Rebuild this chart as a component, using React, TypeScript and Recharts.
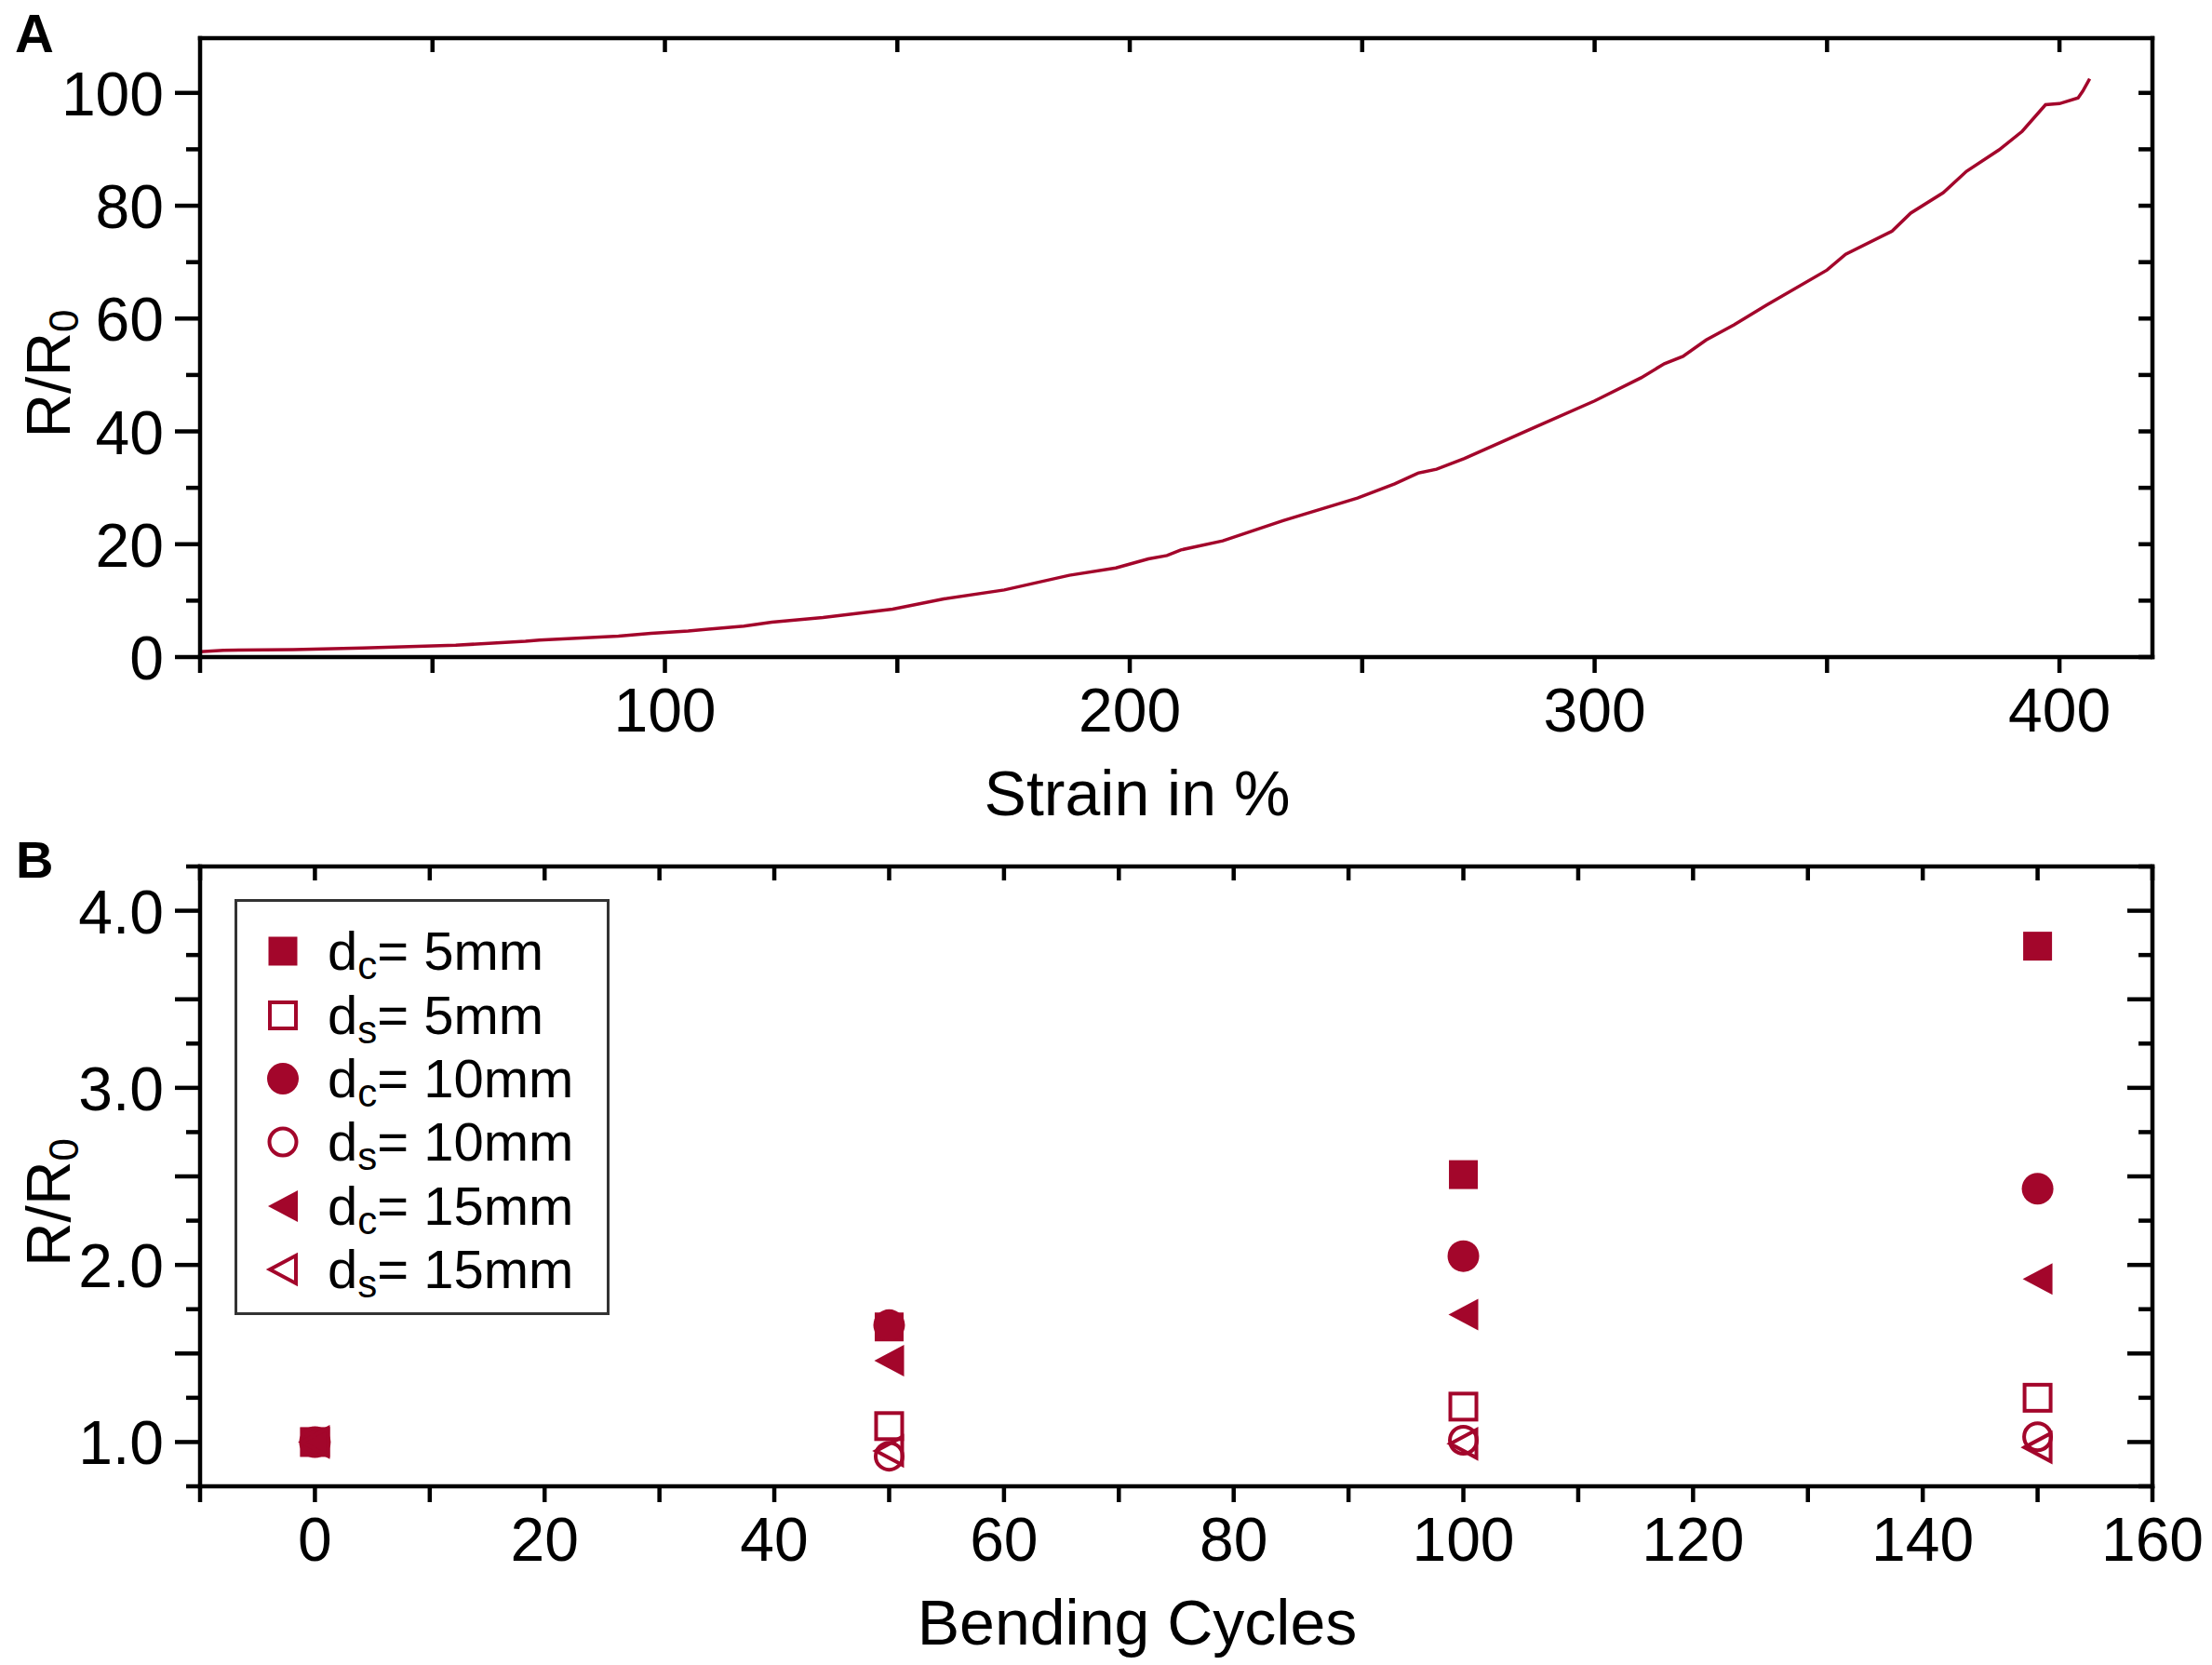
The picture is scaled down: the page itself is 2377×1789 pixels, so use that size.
import React from 'react';
import { LineChart, Line, ScatterChart, Scatter, XAxis, YAxis, Legend } from 'recharts';

// Panel A: resistance ratio vs strain
const strainPct = [
  0, 5, 20, 35, 55, 70, 73, 85, 90, 97, 105, 110, 117, 123, 134, 149, 160, 173, 187, 197,
  204, 208, 211, 220, 233, 249, 257, 262, 266, 272, 287, 300, 310, 315, 319, 324, 330, 337,
  350, 354, 364, 368, 375, 380, 387, 392, 397, 400, 404, 405, 406.5,
];
const strainRatio = [
  0.95, 1.2, 1.3, 1.6, 2.1, 2.8, 3.0, 3.5, 3.7, 4.2, 4.6, 5.0, 5.5, 6.2, 7.0, 8.5, 10.3, 11.9,
  14.5, 15.8, 17.4, 18.0, 19.0, 20.6, 24.2, 28.2, 30.7, 32.6, 33.3, 35.2, 40.7, 45.4, 49.5,
  52.0, 53.3, 56.2, 58.9, 62.4, 68.6, 71.4, 75.5, 78.7, 82.3, 86.1, 89.9, 93.2, 97.9, 98.1,
  99.1, 100.3, 102.5,
];

// Panel B: resistance ratio vs bending cycles
const bendingCycles = [0, 50, 100, 150];
const dc5 = [1.0, 1.65, 2.51, 3.8];
const ds5 = [1.0, 1.09, 1.2, 1.25];
const dc10 = [1.0, 1.66, 2.05, 2.43];
const ds10 = [1.0, 0.92, 1.01, 1.03];
const dc15 = [1.0, 1.46, 1.72, 1.92];
const ds15 = [1.0, 0.95, 0.99, 0.97];

const strainTicks = [0, 50, 100, 150, 200, 250, 300, 350, 400];
const ratioTicksA = [0, 10, 20, 30, 40, 50, 60, 70, 80, 90, 100];
const cycleTicks = [-10, 0, 10, 20, 30, 40, 50, 60, 70, 80, 90, 100, 110, 120, 130, 140, 150, 160];
const ratioTicksB = [0.75, 1, 1.25, 1.5, 1.75, 2, 2.25, 2.5, 2.75, 3, 3.25, 3.5, 3.75, 4, 4.25];

const RED = '#A3062B';
const FONT = '"Liberation Sans", Arial, Helvetica, sans-serif';
const TICK_FS = 66;
const LW = 4.5;
const AXIS = { stroke: '#000', strokeWidth: LW, strokeLinecap: 'square' as const };

const lineData = strainPct.map((s, i) => ({ strain: s, r: strainRatio[i] }));
const toPts = (vals: number[]) => bendingCycles.map((c, i) => ({ cycles: c, r: vals[i] }));

type Mark = 'square' | 'circle' | 'tri';
const Marker = ({ cx, cy, kind, filled }: { cx: number; cy: number; kind: Mark; filled: boolean }) => {
  const fill = filled ? RED : 'none';
  const sw = filled ? 0 : 4;
  if (kind === 'square') {
    const h = filled ? 15.5 : 14;
    return <rect x={cx - h} y={cy - h} width={2 * h} height={2 * h} fill={fill} stroke={RED} strokeWidth={sw} />;
  }
  if (kind === 'circle') {
    return <circle cx={cx} cy={cy} r={filled ? 17 : 14.5} fill={fill} stroke={RED} strokeWidth={sw} />;
  }
  const w = filled ? 16 : 14;
  return (
    <polygon
      points={`${cx - w},${cy} ${cx + w},${cy - w - 1} ${cx + w},${cy + w + 1}`}
      fill={fill}
      stroke={RED}
      strokeWidth={sw}
      strokeLinejoin="miter"
    />
  );
};

const series = [
  { name: 'dc5', sub: 'c', mm: '5mm', kind: 'square' as Mark, filled: true, vals: dc5 },
  { name: 'ds5', sub: 's', mm: '5mm', kind: 'square' as Mark, filled: false, vals: ds5 },
  { name: 'dc10', sub: 'c', mm: '10mm', kind: 'circle' as Mark, filled: true, vals: dc10 },
  { name: 'ds10', sub: 's', mm: '10mm', kind: 'circle' as Mark, filled: false, vals: ds10 },
  { name: 'dc15', sub: 'c', mm: '15mm', kind: 'tri' as Mark, filled: true, vals: dc15 },
  { name: 'ds15', sub: 's', mm: '15mm', kind: 'tri' as Mark, filled: false, vals: ds15 },
];

const tickText = (x: number, y: number, s: string, anchor: 'middle' | 'end') => (
  <text x={x} y={y} textAnchor={anchor} fontSize={TICK_FS} fontFamily={FONT} fill="#000">
    {s}
  </text>
);

const bottomTick = (labelled: (v: number) => string | null) => (p: any) => {
  const v = p.payload.value;
  const s = labelled(v);
  return (
    <g>
      <line x1={p.x} x2={p.x} y1={p.y} y2={p.y + 17} stroke="#000" strokeWidth={LW} />
      {s !== null && tickText(p.x, p.y + 80, s, 'middle')}
    </g>
  );
};

const topTick = (p: any) => (
  <line x1={p.x} x2={p.x} y1={p.y} y2={p.y + 15} stroke="#000" strokeWidth={LW} />
);

const leftTick = (isLong: (v: number) => boolean, labelled: (v: number) => string | null) => (p: any) => {
  const v = p.payload.value;
  const s = labelled(v);
  const len = isLong(v) ? 27 : 15;
  return (
    <g>
      <line x1={p.x - len} x2={p.x} y1={p.y} y2={p.y} stroke="#000" strokeWidth={LW} />
      {s !== null && tickText(p.x - 39, p.y + 24, s, 'end')}
    </g>
  );
};

const rightTick = (isLong: (v: number) => boolean) => (p: any) => {
  const len = isLong(p.payload.value) ? 27 : 15;
  return <line x1={p.x - len} x2={p.x} y1={p.y} y2={p.y} stroke="#000" strokeWidth={LW} />;
};

const yLabel = (p: any) => {
  const vb = p.viewBox || { y: 41, height: 665 };
  const cy = vb.y + vb.height / 2 + 28;
  return (
    <text
      x={75}
      y={cy}
      transform={`rotate(-90, 75, ${cy})`}
      textAnchor="middle"
      fontSize={TICK_FS}
      fontFamily={FONT}
      fill="#000"
    >
      R/R
      <tspan fontSize={44} dy={9}>
        0
      </tspan>
    </text>
  );
};

const xLabel = (text: string) => (p: any) => {
  const vb = p.viewBox || { y: 706 };
  return (
    <text x={1222} y={vb.y + 170} textAnchor="middle" fontSize={68} fontFamily={FONT} fill="#000">
      {text}
    </text>
  );
};

const LegendBox = () => (
  <div
    style={{
      width: 403,
      height: 447,
      boxSizing: 'border-box',
      border: '3px solid #333',
      background: '#fff',
      paddingTop: 19,
      fontFamily: FONT,
      color: '#000',
    }}
  >
    {series.map((s) => (
      <div key={s.name} style={{ height: 68.4, display: 'flex', alignItems: 'center', lineHeight: 1 }}>
        <svg width={97} height={44} style={{ flex: 'none' }}>
          <Marker cx={49} cy={22} kind={s.kind} filled={s.filled} />
        </svg>
        <span style={{ fontSize: 58, whiteSpace: 'nowrap' }}>
          d
          <span style={{ fontSize: 42, position: 'relative', top: 10 }}>{s.sub}</span>= {s.mm}
        </span>
      </div>
    ))}
  </div>
);

function PanelA() {
  return (
    <LineChart width={2377} height={890} data={lineData} margin={{ top: 40, right: 63, left: 0, bottom: 0 }}>
      <XAxis
        dataKey="strain"
        type="number"
        domain={[0, 420]}
        allowDataOverflow
        ticks={strainTicks}
        interval={0}
        height={184}
        axisLine={AXIS}
        tickLine={false}
        tickSize={0}
        tickMargin={0}
        tick={bottomTick((v) => (v > 0 && v % 100 === 0 ? String(v) : null))}
        label={xLabel('Strain in %')}
      />
      <XAxis
        xAxisId="top"
        dataKey="strain"
        orientation="top"
        type="number"
        domain={[0, 420]}
        allowDataOverflow
        ticks={strainTicks.slice(1)}
        interval={0}
        height={1}
        axisLine={AXIS}
        tickLine={false}
        tickSize={0}
        tickMargin={0}
        tick={topTick}
      />
      <YAxis
        type="number"
        domain={[0, 109.7]}
        allowDataOverflow
        ticks={ratioTicksA}
        interval={0}
        width={215}
        axisLine={AXIS}
        tickLine={false}
        tickSize={0}
        tickMargin={0}
        tick={leftTick((v) => v % 20 === 0, (v) => (v % 20 === 0 ? String(v) : null))}
        label={yLabel}
      />
      <YAxis
        yAxisId="right"
        orientation="right"
        type="number"
        domain={[0, 109.7]}
        allowDataOverflow
        ticks={ratioTicksA}
        interval={0}
        width={1}
        axisLine={AXIS}
        tickLine={false}
        tickSize={0}
        tickMargin={0}
        tick={rightTick(() => false)}
      />
      <Line
        xAxisId="top"
        yAxisId="right"
        dataKey="r"
        type="linear"
        stroke="none"
        dot={false}
        activeDot={false}
        legendType="none"
        isAnimationActive={false}
      />
      <Line
        dataKey="r"
        type="linear"
        stroke={RED}
        strokeWidth={3.5}
        dot={false}
        activeDot={false}
        isAnimationActive={false}
      />
    </LineChart>
  );
}

function PanelB() {
  const isHalf = (v: number) => Math.abs(v * 2 - Math.round(v * 2)) < 1e-6;
  const isWhole = (v: number) => Math.abs(v - Math.round(v)) < 1e-6;
  return (
    <ScatterChart width={2377} height={899} margin={{ top: 40, right: 63, left: 0, bottom: 0 }}>
      <XAxis
        dataKey="cycles"
        type="number"
        domain={[-10, 160]}
        allowDataOverflow
        ticks={cycleTicks}
        interval={0}
        height={192}
        axisLine={AXIS}
        tickLine={false}
        tickSize={0}
        tickMargin={0}
        tick={bottomTick((v) => (v >= 0 && v % 20 === 0 ? String(v) : null))}
        label={xLabel('Bending Cycles')}
      />
      <XAxis
        xAxisId="top"
        dataKey="cycles"
        orientation="top"
        type="number"
        domain={[-10, 160]}
        allowDataOverflow
        ticks={cycleTicks}
        interval={0}
        height={1}
        axisLine={AXIS}
        tickLine={false}
        tickSize={0}
        tickMargin={0}
        tick={topTick}
      />
      <YAxis
        dataKey="r"
        type="number"
        domain={[0.75, 4.25]}
        allowDataOverflow
        ticks={ratioTicksB}
        interval={0}
        width={215}
        axisLine={AXIS}
        tickLine={false}
        tickSize={0}
        tickMargin={0}
        tick={leftTick(isHalf, (v) => (isWhole(v) ? v.toFixed(1) : null))}
        label={yLabel}
      />
      <YAxis
        yAxisId="right"
        dataKey="r"
        orientation="right"
        type="number"
        domain={[0.75, 4.25]}
        allowDataOverflow
        ticks={ratioTicksB}
        interval={0}
        width={1}
        axisLine={AXIS}
        tickLine={false}
        tickSize={0}
        tickMargin={0}
        tick={rightTick(isHalf)}
      />
      <Legend
        layout="horizontal"
        verticalAlign="middle"
        align="center"
        wrapperStyle={{ left: 252, top: 76, width: 403, height: 447 }}
        content={() => <LegendBox />}
      />
      <Scatter
        xAxisId="top"
        yAxisId="right"
        name="frame"
        data={toPts(dc5)}
        legendType="none"
        isAnimationActive={false}
        shape={() => <g />}
      />
      {series.map((s) => (
        <Scatter
          key={s.name}
          name={s.name}
          data={toPts(s.vals)}
          isAnimationActive={false}
          shape={(p: any) => <Marker cx={p.cx} cy={p.cy} kind={s.kind} filled={s.filled} />}
        />
      ))}
    </ScatterChart>
  );
}

export default function App() {
  return (
    <div style={{ position: 'absolute', left: 0, top: 0, width: 2377, height: 1789, background: '#fff' }}>
      <div style={{ position: 'absolute', left: 0, top: 0 }}>
        <PanelA />
      </div>
      <div style={{ position: 'absolute', left: 0, top: 890 }}>
        <PanelB />
      </div>
      <svg width={2377} height={1789} style={{ position: 'absolute', left: 0, top: 0, pointerEvents: 'none' }}>
        <text x={16} y={56} fontSize={58} fontWeight="bold" fontFamily={FONT} fill="#000">
          A
        </text>
        <text x={17} y={943} fontSize={56} fontWeight="bold" fontFamily={FONT} fill="#000">
          B
        </text>
      </svg>
    </div>
  );
}
